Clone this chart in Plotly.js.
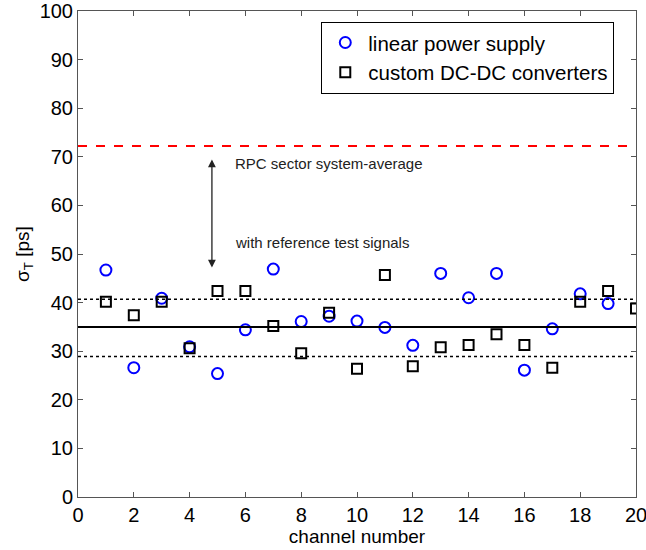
<!DOCTYPE html>
<html><head><meta charset="utf-8">
<script src="https://cdn.plot.ly/plotly-3.0.1.min.js"></script>
<style>body{margin:0;background:#fff}#chart{width:646px;height:550px}</style>
</head><body><div id="chart"></div>
<script>
const channelsLinear = [1,2,3,4,5,6,7,8,9,10,11,12,13,14,15,16,17,18,19];
const sigmaLinear = [46.7,26.6,40.9,30.9,25.4,34.4,46.9,36.1,37.2,36.2,34.9,31.2,46.0,41.0,46.0,26.1,34.6,41.8,39.8];
const channelsDCDC = [1,2,3,4,5,6,7,8,9,10,11,12,13,14,15,16,17,18,19,20];
const sigmaDCDC = [40.2,37.4,40.2,30.6,42.4,42.4,35.2,29.6,37.9,26.4,45.7,26.9,30.8,31.3,33.5,31.3,26.6,40.2,42.4,38.8];
const meanLevel = 35.0;
const bandLevels = [28.9, 40.7];
const systemAverage = 72.2;
const xRange = [0, 20];
const yRange = [0, 100];
const labels = {
  series1: 'linear power supply',
  series2: 'custom DC-DC converters',
  x: 'channel number',
  y: 'σ<sub>T</sub> [ps]',
  note1: 'RPC sector system-average',
  note2: 'with reference test signals'
};

const traces = [
  {x: channelsLinear, y: sigmaLinear, mode: 'markers', type: 'scatter', name: labels.series1,
   marker: {symbol: 'circle-open', size: 11, color: '#0000ff', line: {width: 2, color: '#0000ff'}}},
  {x: channelsDCDC, y: sigmaDCDC, mode: 'markers', type: 'scatter', name: labels.series2,
   marker: {symbol: 'square-open', size: 10, color: '#000000', line: {width: 2, color: '#000000'}}}
];

const shapes = [
  {type: 'line', xref: 'paper', x0: 0, x1: 1, yref: 'y', y0: meanLevel, y1: meanLevel, line: {color: '#000', width: 2}},
  {type: 'line', xref: 'paper', x0: 0, x1: 1, yref: 'y', y0: bandLevels[0], y1: bandLevels[0], line: {color: '#000', width: 1.5, dash: 'dot'}},
  {type: 'line', xref: 'paper', x0: 0, x1: 1, yref: 'y', y0: bandLevels[1], y1: bandLevels[1], line: {color: '#000', width: 1.5, dash: 'dot'}},
  {type: 'line', xref: 'paper', x0: 0, x1: 1, yref: 'y', y0: systemAverage, y1: systemAverage, line: {color: '#ff0000', width: 2, dash: 'dash'}}
];

const annotations = [
  {x: 4.8, y: 47.2, xref: 'x', yref: 'y', ax: 4.8, ay: 71.2, axref: 'x', ayref: 'y', text: ' ',
   showarrow: true, arrowhead: 2, startarrowhead: 2, arrowside: 'end+start', arrowsize: 1.2, arrowwidth: 1.3, arrowcolor: '#222'},
  {x: 5.55, y: 68.7, xref: 'x', yref: 'y', text: labels.note1, showarrow: false, xanchor: 'left', yanchor: 'middle',
   font: {family: 'Liberation Sans, Arial, sans-serif', size: 15, color: '#222'}},
  {x: 5.55, y: 52.3, xref: 'x', yref: 'y', text: labels.note2, showarrow: false, xanchor: 'left', yanchor: 'middle',
   font: {family: 'Liberation Sans, Arial, sans-serif', size: 15, color: '#222'}}
];

const axisCommon = {
  showgrid: false, zeroline: false, showline: true, linecolor: '#555', linewidth: 1, mirror: 'ticks',
  ticks: 'inside', ticklen: 5, tickcolor: '#555',
  tickfont: {family: 'Liberation Sans, Arial, sans-serif', size: 20, color: '#000'}
};

const layout = {
  width: 646, height: 550,
  margin: {l: 78, r: 10, t: 11, b: 53},
  paper_bgcolor: '#fff', plot_bgcolor: '#fff',
  font: {family: 'Liberation Sans, Arial, sans-serif', color: '#000'},
  xaxis: Object.assign({}, axisCommon, {range: xRange, dtick: 2, tick0: 0, ticklabeloverflow: 'allow',
    title: {text: labels.x, font: {size: 19}, standoff: 0}}),
  yaxis: Object.assign({}, axisCommon, {range: yRange, dtick: 10, tick0: 0,
    title: {text: labels.y, font: {size: 19}, standoff: 4}}),
  showlegend: true,
  legend: {x: 0.436, y: 0.978, xanchor: 'left', yanchor: 'top', bgcolor: '#fff', bordercolor: '#000', borderwidth: 1,
    font: {family: 'Liberation Sans, Arial, sans-serif', size: 20.5, color: '#000'}, itemwidth: 36, tracegroupgap: 0},
  shapes: shapes,
  annotations: annotations
};

Plotly.newPlot('chart', traces, layout, {displayModeBar: false, staticPlot: true});
</script>
</body></html>
